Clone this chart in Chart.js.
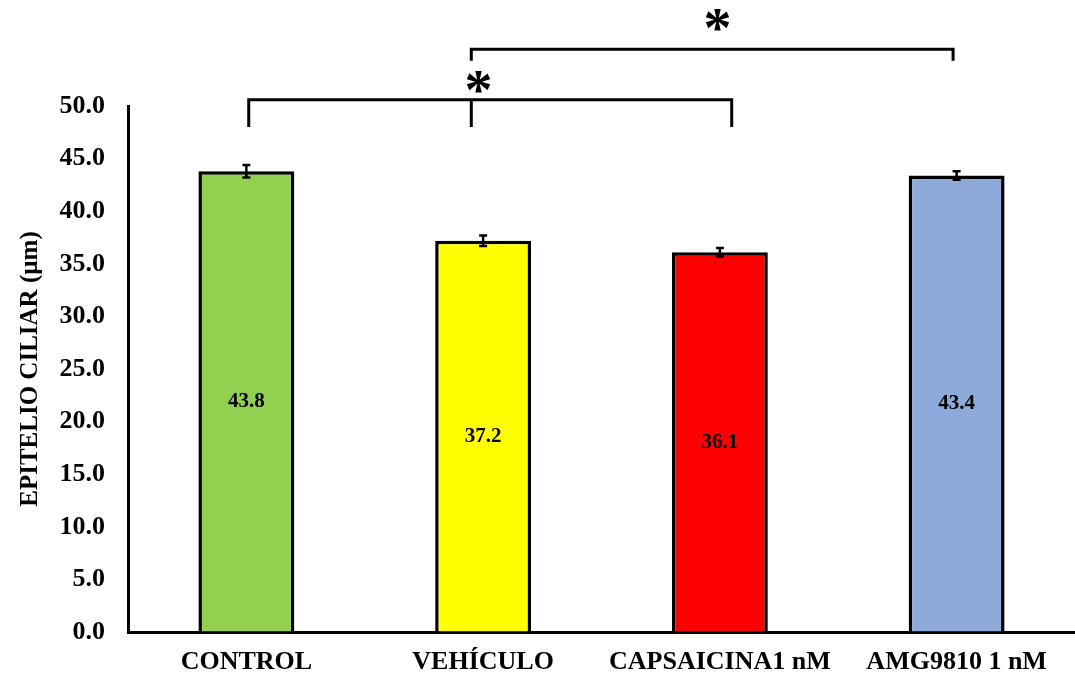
<!DOCTYPE html>
<html>
<head>
<meta charset="utf-8">
<script src="https://cdn.jsdelivr.net/npm/chart.js@4"></script>
<style>
  html, body { margin: 0; padding: 0; background: #fff; }
  #wrap { width: 1075px; height: 677px; }
</style>
</head>
<body>
<div id="wrap"><canvas id="grafico"></canvas></div>
<script>
const categorias = ["CONTROL", "VEHÍCULO", "CAPSAICINA1 nM", "AMG9810 1 nM"];
const medias = [43.8, 37.2, 36.1, 43.4];
const errores = [0.6, 0.5, 0.4, 0.4];
const cores = ["#92d050", "#ffff00", "#ff0000", "#8eaadb"];

// corchetes: x en indice de categoria, y en unidades del eje
const corchetes = [
    { desde: 0.01, medio: 0.95, hasta: 2.05, y: 50.6, yPata: 48.0 },
    { desde: 0.95, medio: null, hasta: 2.985, y: 55.4, yPata: 54.3 }
];
const asteriscos = [
    { x: 0.98, y: 52.1 },
    { x: 1.99, y: 58.0 }
];

const fuente = "'Liberation Serif', 'Times New Roman', serif";

const extras = {
    id: "extras",
    afterDraw(chart){
        const ctx = chart.ctx;
        const xs = chart.scales.x;
        const ys = chart.scales.y;
        const meta = chart.getDatasetMeta(0);

        ctx.save();
        ctx.strokeStyle = "#000";
        ctx.fillStyle = "#000";

        // barras de error
        ctx.lineWidth = 2.5;
        meta.data.forEach((bar, i) => {
            const top = ys.getPixelForValue(medias[i] + errores[i]);
            const bot = ys.getPixelForValue(medias[i] - errores[i]);
            ctx.beginPath();
            ctx.moveTo(bar.x, top);
            ctx.lineTo(bar.x, bot);
            ctx.moveTo(bar.x - 4, top);
            ctx.lineTo(bar.x + 4, top);
            ctx.moveTo(bar.x - 4, bot);
            ctx.lineTo(bar.x + 4, bot);
            ctx.stroke();
        });

        // etiquetas de valor
        ctx.font = "bold 21px " + fuente;
        ctx.textAlign = "center";
        ctx.textBaseline = "middle";
        meta.data.forEach((bar, i) => {
            ctx.fillText(medias[i].toFixed(1), bar.x, ys.getPixelForValue(medias[i] / 2));
        });

        // corchetes
        ctx.lineWidth = 3;
        corchetes.forEach(c => {
            const x1 = xs.getPixelForValue(c.desde);
            const x2 = xs.getPixelForValue(c.hasta);
            const y = ys.getPixelForValue(c.y);
            const yp = ys.getPixelForValue(c.yPata);
            ctx.beginPath();
            ctx.moveTo(x1, yp);
            ctx.lineTo(x1, y);
            ctx.lineTo(x2, y);
            ctx.lineTo(x2, yp);
            if(c.medio !== null){
                const xm = xs.getPixelForValue(c.medio);
                ctx.moveTo(xm, y);
                ctx.lineTo(xm, yp);
            }
            ctx.stroke();
        });

        // asteriscos
        ctx.font = "bold 56px " + fuente;
        ctx.textBaseline = "alphabetic";
        asteriscos.forEach(a => {
            ctx.fillText("*", xs.getPixelForValue(a.x), ys.getPixelForValue(a.y) + 25);
        });

        ctx.restore();
    }
};

new Chart(document.getElementById("grafico"), {
    type: "bar",
    data: {
        labels: categorias,
        datasets: [{
            data: medias,
            backgroundColor: cores,
            borderColor: "#000",
            borderWidth: 3.5,
            barPercentage: 0.405,
            categoryPercentage: 1
        }]
    },
    options: {
        responsive: true,
        maintainAspectRatio: false,
        animation: false,
        layout: { padding: { top: 106, right: 0, left: 0, bottom: 0 } },
        plugins: {
            legend: { display: false },
            tooltip: { enabled: false }
        },
        scales: {
            x: {
                grid: { color: "rgba(0,0,0,0)", drawTicks: false },
                border: { display: true, color: "#000", width: 3 },
                ticks: {
                    color: "#000",
                    padding: 15,
                    maxRotation: 0,
                    font: { family: fuente, size: 26, weight: "bold" }
                },
                afterFit(scale){ scale.height = 45; }
            },
            y: {
                min: 0,
                max: 50,
                grid: { color: "rgba(0,0,0,0)", drawTicks: false },
                border: { display: true, color: "#000", width: 3 },
                ticks: {
                    stepSize: 5,
                    color: "#000",
                    padding: 23,
                    font: { family: fuente, size: 26, weight: "bold" },
                    callback: v => v.toFixed(1)
                },
                title: {
                    display: true,
                    text: "EPITELIO CILIAR (µm)",
                    color: "#000",
                    padding: { top: 16, bottom: 0 },
                    font: { family: fuente, size: 25, weight: "bold" }
                },
                afterFit(scale){ scale.width = 128; }
            }
        }
    },
    plugins: [extras]
});
</script>
</body>
</html>
